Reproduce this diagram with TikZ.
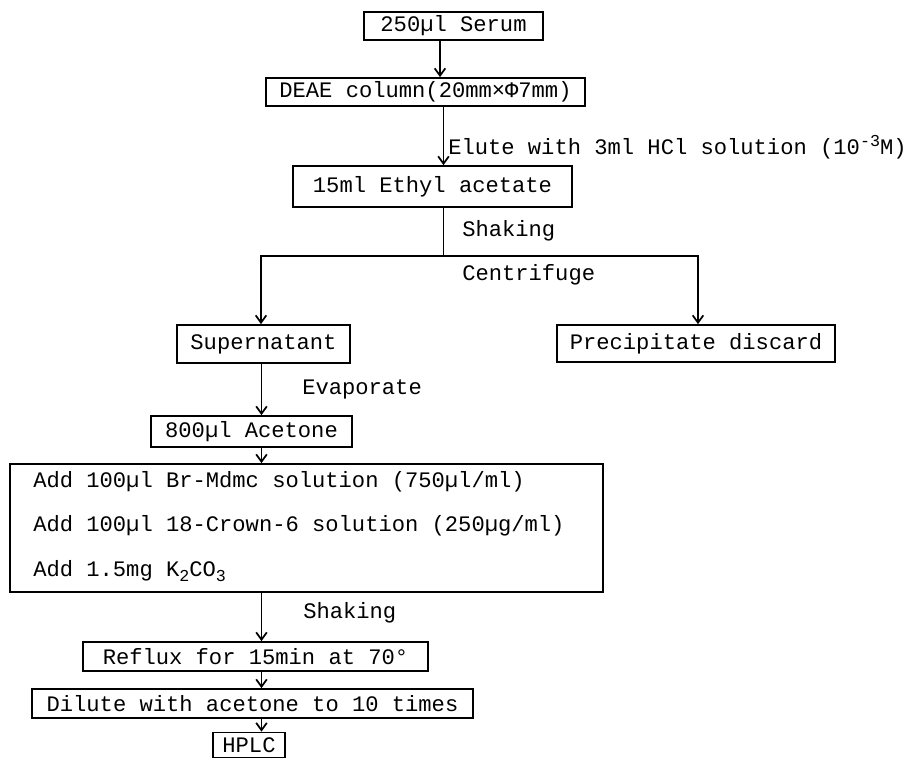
\documentclass[tikz,border=0pt]{standalone}
\usepackage{fontspec}
\setmainfont{Liberation Mono}
\usetikzlibrary{arrows.meta}
\newcommand\mysub[1]{\raisebox{-0.45ex}{\fontsize{12.5}{12.5}\selectfont #1}}
\newcommand\mysup[1]{\raisebox{0.7ex}{\fontsize{12.5}{12.5}\selectfont #1}}
\begin{document}
\begin{tikzpicture}[x=0.75pt,y=-0.75pt,
  every node/.style={font=\fontsize{16.6}{20}\selectfont, text=black},
  bx/.style 2 args={draw, line width=1.3pt, inner sep=0pt,
    minimum width=#1*0.75pt, minimum height=#2*0.75pt},
  lbl/.style={anchor=base west, inner sep=0pt},
  arr/.style={line width=1.3pt, -{Straight Barb[length=5.5pt,width=8pt,line width=1.3pt]}},
  ln/.style={line width=1.3pt}]
\useasboundingbox[fill=white] (0,0) rectangle (918,759);

% boxes
\node[bx={179}{28}] (serum) at (453.5,26) {250µl Serum};
\node[bx={319}{28}] (deae) at (425.5,92) {DEAE column(20mm×Φ7mm)};
\node[bx={279}{41}] (ethyl) at (432.5,186.5) {15ml Ethyl acetate};
\node[bx={173}{38}] (super) at (263.5,344) {Supernatant};
\node[bx={278}{37}] (precip) at (696,343.5) {Precipitate discard};
\node[bx={201}{31}] (acet) at (251.5,431.5) {800µl Acetone};
\node[bx={593}{128}] (big) at (306.5,528) {};
\node[lbl] (l1) at (33,487) {Add 100µl Br-Mdmc solution (750µl/ml)};
\node[lbl] (l2) at (33,531) {Add 100µl 18-Crown-6 solution (250µg/ml)};
\node[lbl] (l3) at (33,576) {Add 1.5mg K\mysub{2}CO\mysub{3}};
\node[bx={345}{29}] (reflux) at (255.5,656.5) {Reflux for 15min at 70°};
\node[bx={441}{29}] (dilute) at (252.5,703.5) {Dilute with acetone to 10 times};
\node[bx={72}{25}] (hplc) at (249,745) {HPLC};

% labels
\node[lbl] (elute) at (448,155) {Elute with 3ml HCl solution (10\mysup{-3}M)};
\node[lbl] (shake1) at (462,237) {Shaking};
\node[lbl] (centr) at (462,281) {Centrifuge};
\node[lbl] (evap) at (302,395) {Evaporate};
\node[lbl] (shake2) at (303,618) {Shaking};

% column coordinates
\coordinate (c1) at (440,0);
\coordinate (c2) at (443.5,0);
\coordinate (j) at (443.5,256);
\coordinate (jl) at (261,256);
\coordinate (jr) at (698,256);
\coordinate (c3) at (261.5,0);

% connectors
\draw[arr] (serum.south -| c1) -- (deae.north -| c1);
\draw[arr] (deae.south -| c2) -- (ethyl.north -| c2);
\draw[ln] (ethyl.south -| j) -- (j);
\draw[arr] (j) -- (jl) -- (super.north -| jl);
\draw[arr] (j) -- (jr) -- (precip.north -| jr);
\draw[arr] (super.south -| c3) -- (acet.north -| c3);
\draw[arr] (acet.south -| c3) -- (big.north -| c3);
\draw[arr] (big.south -| c3) -- (reflux.north -| c3);
\draw[arr] (reflux.south -| c3) -- (dilute.north -| c3);
\draw[arr] (dilute.south -| c3) -- (hplc.north -| c3);
\end{tikzpicture}
\end{document}
